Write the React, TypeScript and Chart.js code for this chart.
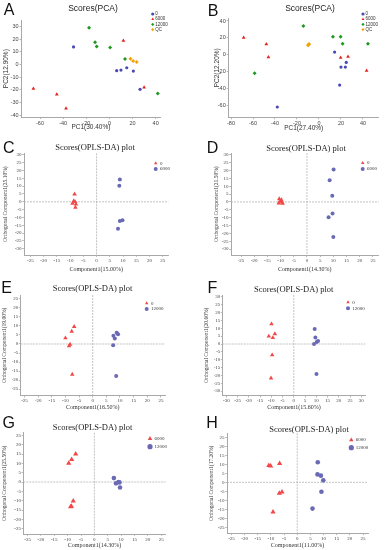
import React, { useEffect, useRef } from "react";
import { Chart, registerables } from "chart.js";

Chart.register(...registerables);

// ---------------- data ----------------
// Panel A – PCA
const pcaA_0 = [[-31, 14], [6.3, -4.8], [10, -4.3], [15, -2.5], [20.7, -5.1], [26.5, -19.6]];
const pcaA_6000 = [[12.1, 18.9], [-65.7, -19.1], [-45.5, -23.6], [-37.5, -34.7], [30, -18]];
const pcaA_12000 = [[-17.6, 29.2], [-12.4, 17.6], [-11, 14.4], [0.6, 13.6], [13.5, 4.4], [41.8, -22.8]];
const pcaA_QC = [[18.2, 4.6], [20.5, 2.8], [23.6, 2]];
// Panel B – PCA
const pcaB_0 = [[14.2, 3.2], [20, -14.6], [24, -14.6], [24.8, -9.1], [18.8, -36], [-37.9, -62]];
const pcaB_6000 = [[-68.5, 20.2], [-47.9, 12.6], [-46, -2.8], [19.7, -3.6], [26.4, -2.4], [43.3, -19]];
const pcaB_12000 = [[-14.2, 34], [-58.5, -22.1], [12.7, 21.3], [19.7, 21.3], [21.5, 13], [44.5, 13]];
const pcaB_QC = [[-9.4, 11.9], [-9, 12.6], [-10, 11.3]];
// Panels C–H – OPLS-DA
const oplsC_0 = [[-8.3, 4.9], [-8.6, 0.6], [-8.1, 0], [-9.1, -1], [-7.8, -1.5], [-8, -3.6]];
const oplsC_6000 = [[8.8, 14.3], [8.6, 10.3], [8.8, -12.2], [9.8, -11.8], [8.1, -17.3]];
const oplsD_0 = [[-10.5, 1.9], [-10.1, 0.4], [-9.5, -0.2], [-10.7, -0.8], [-9.7, 1.3], [-9.2, -1]];
const oplsD_6000 = [[10.1, 20.6], [8.6, 13.8], [9.6, 4], [9.7, -7.4], [8.2, -9.7], [10, -22.2]];
const oplsE_0 = [[-6.8, 9.6], [-7.7, 7], [-10, 3.3], [-8.3, -0.2], [-8.7, -1.1], [-7.5, -16.9]];
const oplsE_12000 = [[8.8, 6.3], [9.3, 5.4], [7.6, 4.6], [8.1, 3], [7.5, -0.7], [8.6, -17.8]];
const oplsF_0 = [[-9.9, 12.7], [-8.4, 6.4], [-11.1, 4.9], [-9.3, 4], [-9.6, -7], [-10.1, -21.7]];
const oplsF_12000 = [[9.3, 9.6], [9.6, 4.2], [10.8, 1.9], [10.2, 1.3], [9, 0], [10.1, -19.1]];
const oplsG_6000 = [[-7, 15], [-8.5, 12.1], [-9.6, 10], [-7.9, -10.2], [-8.6, -12.9], [-8.9, -13.2]];
const oplsG_12000 = [[7.3, 2.1], [8.1, -0.7], [9, 0], [9.4, -0.2], [9.6, -2.9]];
const oplsH_6000 = [[-10.8, 9.3], [-10.1, 9.1], [-6.7, 10.4], [-5.8, -5.4], [-6.8, -6.1], [-9.2, -16.5]];
const oplsH_12000 = [[7.8, 11.1], [7.7, 4.4], [9, 3.7], [9.9, 1.1], [9.2, -5.2], [5.8, -14.6]];

// tick labels
const ticksA_x = [-60, -40, -20, 0, 20, 40];
const ticksA_y = [-40, -30, -20, -10, 0, 10, 20, 30];
const ticksB_x = [-80, -60, -40, -20, 0, 20, 40];
const ticksB_y = [-60, -40, -20, 0, 20, 40];
const ticks25 = [-25, -20, -15, -10, -5, 0, 5, 10, 15, 20, 25];
const ticks30 = [-30, -25, -20, -15, -10, -5, 0, 5, 10, 15, 20, 25, 30];

// ---------------- styling ----------------
const SANS = '"Liberation Sans", Arial, sans-serif';
const SERIF = '"Liberation Serif", "Times New Roman", serif';
const P_BLUE = "#4a4ab4";
const P_RED = "#e42222";
const P_GREEN = "#1f991f";
const P_ORANGE = "#f5a200";
const O_RED = "#f04848";
const O_BLUE = "#6a6ab4";

interface SeriesDef { label: string; pts: number[][]; color: string; shape: string; r: number }
interface PanelDef {
  kind: "pca" | "opls";
  letter: string; letterX: number; letterY: number;
  title: string; titleX: number; titleY: number;
  box: { x: number; y: number; w: number };
  area: { l: number; t: number; r: number; b: number };
  xMin: number; xMax: number; yMin: number; yMax: number;
  xTicks: number[]; yTicks: number[];
  xTitle: string; xTitleY: number; yTitle: string; yTitleX: number;
  legend: { x: number; y: number; dy: number; dx: number; r: number };
  series: SeriesDef[];
}

const pcaSeries = (a: number[][], b: number[][], c: number[][], d: number[][]): SeriesDef[] => [
  { label: "0", pts: a, color: P_BLUE, shape: "circle", r: 1.6 },
  { label: "6000", pts: b, color: P_RED, shape: "triangle", r: 2.2 },
  { label: "12000", pts: c, color: P_GREEN, shape: "rectRot", r: 2 },
  { label: "QC", pts: d, color: P_ORANGE, shape: "rectRot", r: 2 },
];
const oplsSeries = (l1: string, a: number[][], l2: string, b: number[][], big: boolean): SeriesDef[] => [
  { label: l1, pts: a, color: O_RED, shape: "triangle", r: big ? 3 : 2.6 },
  { label: l2, pts: b, color: O_BLUE, shape: "circle", r: big ? 2.3 : 2 },
];

const panels: PanelDef[] = [
  {
    kind: "pca", letter: "A", letterX: 9, letterY: 10, title: "Scores(PCA)", titleX: 93, titleY: 7.5,
    box: { x: 0, y: 0, w: 192 }, area: { l: 21.5, t: 20.4, r: 160.3, b: 117 },
    xMin: -76, xMax: 44, yMin: -41.5, yMax: 35, xTicks: ticksA_x, yTicks: ticksA_y,
    xTitle: "PC1(30.40%)", xTitleY: 127.5, yTitle: "PC2(12.90%)", yTitleX: 6,
    legend: { x: 152.7, y: 14, dy: 5.2, dx: 2.5, r: 1.6 },
    series: pcaSeries(pcaA_0, pcaA_6000, pcaA_12000, pcaA_QC),
  },
  {
    kind: "pca", letter: "B", letterX: 213, letterY: 10.5, title: "Scores(PCA)", titleX: 310, titleY: 7.5,
    box: { x: 192, y: 0, w: 193 }, area: { l: 228.7, t: 18.3, r: 378.7, b: 117.3 },
    xMin: -82.1, xMax: 54.3, yMin: -74.2, yMax: 43.2, xTicks: ticksB_x, yTicks: ticksB_y,
    xTitle: "PC1(27.40%)", xTitleY: 128, yTitle: "PC2(12.20%)", yTitleX: 217,
    legend: { x: 363, y: 14, dy: 5.2, dx: 2.5, r: 1.6 },
    series: pcaSeries(pcaB_0, pcaB_6000, pcaB_12000, pcaB_QC),
  },
  {
    kind: "opls", letter: "C", letterX: 8.8, letterY: 147.8, title: "Scores(OPLS-DA) plot", titleX: 95, titleY: 147,
    box: { x: 0, y: 138, w: 192 }, area: { l: 24, t: 153.3, r: 168.3, b: 255 },
    xMin: -27.4, xMax: 27.1, yMin: -34, yMax: 31, xTicks: ticks25, yTicks: ticks30,
    xTitle: "Component1(15.00%)", xTitleY: 269, yTitle: "Orthogonal Component1(25.10%)", yTitleX: 5.5,
    legend: { x: 155.7, y: 163.3, dy: 5.7, dx: 4.3, r: 2 },
    series: oplsSeries("0", oplsC_0, "6000", oplsC_6000, false),
  },
  {
    kind: "opls", letter: "D", letterX: 212.5, letterY: 148, title: "Scores(OPLS-DA) plot", titleX: 306, titleY: 148,
    box: { x: 192, y: 138, w: 193 }, area: { l: 231, t: 153, r: 378.7, b: 255.3 },
    xMin: -28.8, xMax: 27.2, yMin: -33.9, yMax: 31.1, xTicks: ticks25, yTicks: ticks30,
    xTitle: "Component1(14.30%)", xTitleY: 269, yTitle: "Orthogonal Component1(21.50%)", yTitleX: 217,
    legend: { x: 362.7, y: 163, dy: 6, dx: 4.3, r: 2 },
    series: oplsSeries("0", oplsD_0, "6000", oplsD_6000, false),
  },
  {
    kind: "opls", letter: "E", letterX: 6.5, letterY: 288, title: "Scores(OPLS-DA) plot", titleX: 92.5, titleY: 288,
    box: { x: 0, y: 278, w: 192 }, area: { l: 20.7, t: 295, r: 165, b: 395.7 },
    xMin: -26.4, xMax: 26.5, yMin: -28.7, yMax: 27.2, xTicks: ticks25, yTicks: ticks25,
    xTitle: "Component1(16.50%)", xTitleY: 407, yTitle: "Orthogonal Component1(19.00%)", yTitleX: 5,
    legend: { x: 146.7, y: 303.3, dy: 5.7, dx: 4.3, r: 2 },
    series: oplsSeries("0", oplsE_0, "12000", oplsE_12000, false),
  },
  {
    kind: "opls", letter: "F", letterX: 212.3, letterY: 288, title: "Scores(OPLS-DA) plot", titleX: 293.7, titleY: 289,
    box: { x: 192, y: 278, w: 193 }, area: { l: 222.7, t: 295, r: 365.3, b: 395.7 },
    xMin: -31.6, xMax: 31.8, yMin: -32.9, yMax: 31.2, xTicks: ticks30, yTicks: ticks30,
    xTitle: "Component1(15.60%)", xTitleY: 407, yTitle: "Orthogonal Component1(20.60%)", yTitleX: 207,
    legend: { x: 348, y: 302.3, dy: 6, dx: 4.3, r: 2 },
    series: oplsSeries("0", oplsF_0, "12000", oplsF_12000, false),
  },
  {
    kind: "opls", letter: "G", letterX: 8.8, letterY: 422.5, title: "Scores(OPLS-DA) plot", titleX: 92.5, titleY: 427,
    box: { x: 0, y: 412, w: 192 }, area: { l: 23.3, t: 432.7, r: 165.7, b: 534 },
    xMin: -26.6, xMax: 26.7, yMin: -27.8, yMax: 26.4, xTicks: ticks25, yTicks: ticks25,
    xTitle: "Component1(14.30%)", xTitleY: 545.7, yTitle: "Orthogonal Component1(25.50%)", yTitleX: 5,
    legend: { x: 150, y: 438.7, dy: 8, dx: 4.5, r: 2.6 },
    series: oplsSeries("6000", oplsG_6000, "12000", oplsG_12000, true),
  },
  {
    kind: "opls", letter: "H", letterX: 212, letterY: 423.3, title: "Scores(OPLS-DA) plot", titleX: 309, titleY: 429,
    box: { x: 192, y: 412, w: 193 }, area: { l: 227, t: 433.3, r: 368, b: 533.3 },
    xMin: -26.7, xMax: 26.9, yMin: -28.3, yMax: 27.2, xTicks: ticks25, yTicks: ticks25,
    xTitle: "Component1(11.00%)", xTitleY: 545, yTitle: "Orthogonal Component1(17.20%)", yTitleX: 212,
    legend: { x: 351.3, y: 440, dy: 7.7, dx: 4.5, r: 2.6 },
    series: oplsSeries("6000", oplsH_6000, "12000", oplsH_12000, true),
  },
];

// ---------------- plugins ----------------
function drawMarker(ctx: CanvasRenderingContext2D, shape: string, x: number, y: number, r: number, color: string) {
  ctx.fillStyle = color;
  ctx.beginPath();
  if (shape === "triangle") {
    for (let i = 0; i < 3; i++) {
      const a = (i * 2 * Math.PI) / 3;
      const px = x + Math.sin(a) * r, py = y - Math.cos(a) * r;
      if (i === 0) ctx.moveTo(px, py); else ctx.lineTo(px, py);
    }
    ctx.closePath();
  } else if (shape === "rectRot") {
    ctx.moveTo(x, y - r); ctx.lineTo(x + r, y); ctx.lineTo(x, y + r); ctx.lineTo(x - r, y); ctx.closePath();
  } else {
    ctx.arc(x, y, r, 0, Math.PI * 2);
  }
  ctx.fill();
}

const zeroLines = {
  id: "zeroLines",
  beforeDatasetsDraw(chart: any, _args: any, opts: any) {
    if (!opts || !opts.enabled) return;
    const { ctx, chartArea: a, scales } = chart;
    const px = scales.x.getPixelForValue(0);
    const py = scales.y.getPixelForValue(0);
    ctx.save();
    ctx.strokeStyle = opts.color;
    ctx.lineWidth = 0.8;
    ctx.setLineDash([2, 1]);
    ctx.beginPath();
    ctx.moveTo(px, a.top); ctx.lineTo(px, a.bottom);
    ctx.moveTo(a.left, py); ctx.lineTo(a.right, py);
    ctx.stroke();
    ctx.restore();
  },
};

const miniLegend = {
  id: "miniLegend",
  afterDraw(chart: any, _args: any, opts: any) {
    if (!opts || !opts.items) return;
    const ctx = chart.ctx as CanvasRenderingContext2D;
    ctx.save();
    opts.items.forEach((it: any, i: number) => {
      const y = opts.y + i * opts.dy;
      drawMarker(ctx, it.shape, opts.x, y, opts.r, it.color);
      ctx.fillStyle = "#333";
      ctx.font = `${opts.size}px ${opts.family}`;
      ctx.textBaseline = "middle";
      ctx.textAlign = "left";
      ctx.fillText(it.label, opts.x + opts.dx, y);
    });
    ctx.restore();
  },
};

// ---------------- components ----------------
function Panel({ p }: { p: PanelDef }) {
  const ref = useRef<HTMLCanvasElement>(null);
  const isPca = p.kind === "pca";
  const family = isPca ? SANS : SERIF;
  const tickSize = isPca ? 5.5 : 5;
  const axTitleSize = isPca ? 6.5 : 6;
  const lh = axTitleSize * 1.2;
  const bx = p.box.x, by = p.box.y, bw = p.box.w;
  const bottom = Math.min(550, Math.ceil(p.xTitleY + lh / 2 + 1));
  const bh = bottom - by;

  useEffect(() => {
    const axisColor = "#a8a8a8";
    const common = (ticks: number[]) => ({
      type: "linear" as const,
      afterBuildTicks: (ax: any) => { ax.ticks = ticks.map((v) => ({ value: v })); },
      grid: { display: true, drawOnChartArea: false, drawTicks: true, tickLength: isPca ? 2 : 1.8, color: axisColor, tickColor: axisColor, lineWidth: 0.8 },
      border: { display: true, color: axisColor, width: 1 },
      ticks: { autoSkip: false, maxRotation: 0, minRotation: 0, color: "#444", font: { family, size: tickSize, lineHeight: 1.2 }, padding: isPca ? 1 : 0.6 },
    });
    const chart = new Chart(ref.current as HTMLCanvasElement, {
      type: "scatter",
      data: {
        datasets: p.series.map((s) => ({
          label: s.label,
          data: s.pts.map(([x, y]) => ({ x, y })),
          backgroundColor: s.color,
          borderColor: s.color,
          borderWidth: 0,
          pointStyle: s.shape as any,
          pointRadius: s.r,
          pointHoverRadius: s.r,
        })),
      },
      options: {
        responsive: false,
        animation: false,
        devicePixelRatio: 1,
        events: [],
        layout: { padding: { left: 0, top: p.area.t - by, right: bx + bw - p.area.r, bottom: 0 } },
        plugins: {
          legend: { display: false },
          tooltip: { enabled: false },
          title: { display: false },
          zeroLines: { enabled: !isPca, color: "#b4b4b4" },
          miniLegend: {
            items: p.series.map((s) => ({ label: s.label, color: s.color, shape: s.shape })),
            x: p.legend.x - bx, y: p.legend.y - by, dy: p.legend.dy, dx: p.legend.dx, r: p.legend.r,
            size: isPca ? 4.5 : 5, family,
          },
        } as any,
        scales: {
          x: {
            ...common(p.xTicks),
            position: "bottom",
            min: p.xMin, max: p.xMax,
            afterFit: (ax: any) => { ax.height = by + bh - p.area.b; },
            title: {
              display: true, text: p.xTitle, color: "#333",
              font: { family, size: axTitleSize, lineHeight: 1.2 },
              padding: { top: 0, bottom: Math.max(0, bottom - p.xTitleY - lh / 2) },
            },
          },
          y: {
            ...common(p.yTicks),
            position: "left",
            min: p.yMin, max: p.yMax,
            afterFit: (ax: any) => { ax.width = p.area.l - bx; },
            title: {
              display: true, text: p.yTitle, color: "#333",
              font: { family, size: isPca ? axTitleSize : 5.5, lineHeight: 1.2 },
              padding: { top: Math.max(0, p.yTitleX - bx - (isPca ? lh : 5.5 * 1.2) / 2), bottom: 0 },
            },
          },
        } as any,
      },
      plugins: [zeroLines as any, miniLegend as any],
    });
    return () => chart.destroy();
  }, []);

  return (
    <>
      <canvas ref={ref} width={bw} height={bh}
        style={{ position: "absolute", left: bx, top: by, width: bw, height: bh }} />
      <div style={{ position: "absolute", left: p.letterX, top: p.letterY, transform: "translate(-50%,-50%)",
        font: `16px ${SANS}`, lineHeight: 1, color: "#111", whiteSpace: "nowrap" }}>{p.letter}</div>
      <div style={{ position: "absolute", left: p.titleX, top: p.titleY, transform: "translate(-50%,-50%)",
        font: isPca ? `8.5px ${SANS}` : `8.5px ${SERIF}`, lineHeight: 1, color: "#222", whiteSpace: "nowrap" }}>{p.title}</div>
    </>
  );
}

export default function App() {
  return (
    <div style={{ position: "absolute", left: 0, top: 0, width: 385, height: 550, background: "#fff", overflow: "hidden" }}>
      {panels.map((p) => <Panel key={p.letter} p={p} />)}
    </div>
  );
}
